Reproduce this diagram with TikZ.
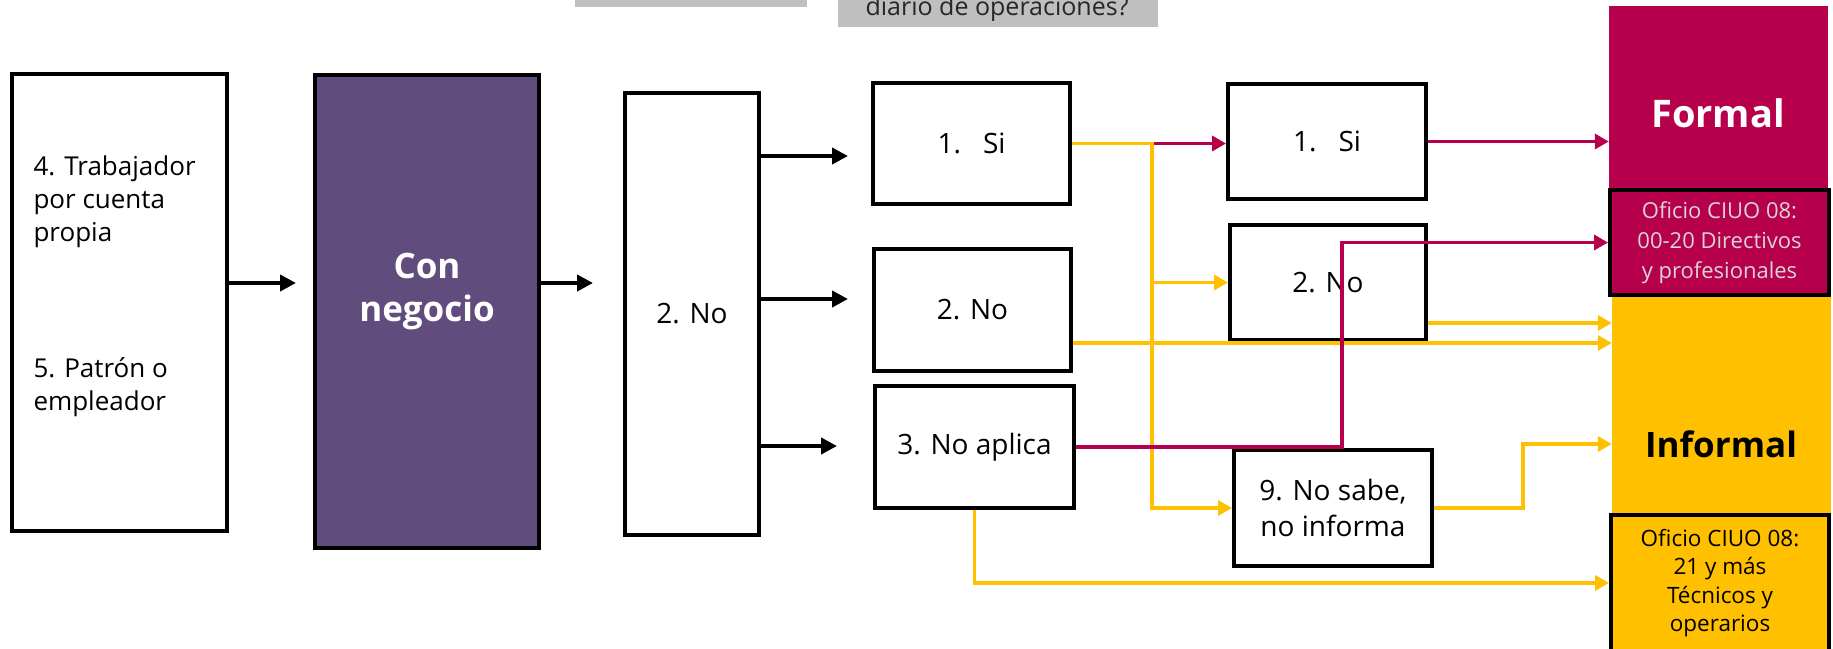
\documentclass[tikz,border=0pt]{standalone}
\usepackage{fontspec}
\setmainfont{Open Sans}
\usetikzlibrary{arrows.meta,calc}

\definecolor{rojo}{HTML}{B7004C}
\definecolor{amarillo}{HTML}{FFC000}
\definecolor{morado}{HTML}{604C7D}
\definecolor{gris}{HTML}{BFBFBF}
\definecolor{grisclaro}{HTML}{DCD3D7}

\begin{document}
\begin{tikzpicture}[x=1pt, y=-1pt,
    caja/.style={draw=black, line width=4pt, fill=white, inner sep=0pt, align=center, font=\fontsize{28}{36}\selectfont},
    flecha/.style={line width=4pt, -{Triangle[length=16pt,width=16pt]}},
    roja/.style={rojo, line width=3.5pt, -{Triangle[length=14pt,width=15pt]}},
    amarilla/.style={amarillo, line width=3.5pt, -{Triangle[length=14pt,width=15pt]}}]

    \useasboundingbox (0,0) rectangle (1833,648);
    \clip (0,0) rectangle (1833,648);

    % Recuadros grises (cortados arriba)
    \fill[gris] (575,-20) rectangle (807,7);
    \fill[gris] (838,-40) rectangle (1158,27);
    \node[anchor=base, text=black!85, font=\fontsize{25}{30}\selectfont] (libro) at (997,15) {diario de operaciones?};

    % Cajas
    \node[caja, minimum width=215pt, minimum height=457pt] (trab) at (119.5,302.5) {};
    \node[anchor=west, align=left, font=\fontsize{26}{33}\selectfont] (trabA) at (30,202) {4. Trabajador\\por cuenta\\propia};
    \node[anchor=west, align=left, font=\fontsize{26}{33}\selectfont] (trabB) at (30,387) {5. Patrón o\\empleador};

    \node[caja, fill=morado, minimum width=224pt, minimum height=473pt] (con) at (427,311.5) {};
    \node[text=white, align=center, font=\bfseries\fontsize{35}{43}\selectfont] (contxt) at (427,292) {Con\\negocio};

    \node[caja, minimum width=134pt, minimum height=442pt] (no0) at (692,314) {2. No};

    \node[caja, minimum width=197pt, minimum height=121pt] (si1) at (971.5,143.5) {1.\hspace{22pt}Si};
    \node[caja, minimum width=197pt, minimum height=122pt] (no1) at (972.5,310) {2. No};
    \node[caja, minimum width=199pt, minimum height=122pt] (na) at (974.5,447) {3. No aplica};

    \node[caja, minimum width=198pt, minimum height=115pt] (si2) at (1327,141.5) {1.\hspace{22pt}Si};
    \node[caja, minimum width=196pt, minimum height=115pt] (no2) at (1328,282.5) {2. No};
    \node[caja, minimum width=198pt, minimum height=116pt] (ns) at (1333,508) {9. No sabe,\\no informa};

    % Resultado
    \node[fill=rojo, inner sep=0pt, minimum width=219pt, minimum height=182pt] (formal) at (1718.5,97) {};
    \node[text=white, font=\bfseries\fontsize{38}{46}\selectfont] (formaltxt) at (1718,113.5) {Formal};
    \node[fill=amarillo, inner sep=0pt, minimum width=219pt, minimum height=217pt] (informal) at (1721.5,404.5) {};
    \node[font=\bfseries\fontsize{35}{42}\selectfont] (informaltxt) at (1721,444) {Informal};
    \node[caja, fill=rojo, text=grisclaro, font=\fontsize{22}{30}\selectfont, minimum width=219pt, minimum height=105pt] (ofi1) at (1719.5,242.5) {Oficio CIUO 08:\\00-20 Directivos\\y profesionales};
    \node[caja, fill=amarillo, font=\fontsize{22.5}{28.5}\selectfont, minimum width=218pt, minimum height=136pt] (ofi2) at (1720,583) {Oficio CIUO 08:\\21 y más\\Técnicos y\\operarios};

    % Rieles
    \coordinate (f1) at (0,283);
    \coordinate (f2) at (0,156);
    \coordinate (f3) at (0,299);
    \coordinate (f4) at (0,446);
    \coordinate (v1) at (1152,0);
    \coordinate (v2) at (1342,0);
    \coordinate (v3) at (1523,0);
    \coordinate (a1) at (0,323);
    \coordinate (a2) at (0,343);
    \coordinate (a3) at (0,444);

    % Flechas negras
    \draw[flecha, shorten >=17pt] (trab.east |- f1) -- (con.west |- f1);
    \draw[flecha, shorten >=30pt] (con.east |- f1) -- (no0.west |- f1);
    \draw[flecha, shorten >=23pt] (no0.east |- f2) -- (si1.west |- f2);
    \draw[flecha, shorten >=24pt] (no0.east |- f3) -- (no1.west |- f3);
    \draw[flecha, shorten >=36pt] (no0.east |- f4) -- (na.west |- f4);

    % Flechas rojas y amarillas
    \draw[roja] (si1.east) -- (si2.west |- si1.east);
    \draw[amarilla] (si1.east) -| (v1 |- no2.west) -- (no2.west);
    \draw[amarilla] (v1 |- no2.west) |- (ns.west);
    \draw[amarilla] (no2.east |- a1) -- (informal.west |- a1);
    \draw[amarilla] (no1.east |- a2) -- (informal.west |- a2);
    \draw[amarilla] (ns.east) -| (v3 |- a3) -- (informal.west |- a3);
    \draw[amarilla] (na.south) |- (ofi2.west);
    \draw[roja] (si2.east) -- (formal.west |- si2.east);
    \draw[roja] (na.east) -| (v2 |- ofi1.west) -- (ofi1.west);
\end{tikzpicture}
\end{document}
